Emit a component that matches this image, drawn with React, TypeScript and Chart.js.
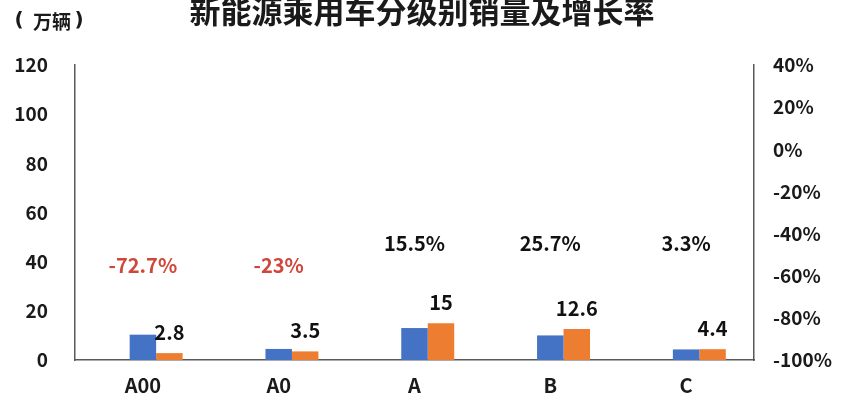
import React, { useEffect, useRef } from "react";
import { Chart, registerables } from "chart.js";

Chart.register(...registerables);

const categories = ["A00", "A0", "A", "B", "C"];
const prevSales = [10.3, 4.5, 13.0, 10.0, 4.3];
const currSales = [2.8, 3.5, 15, 12.6, 4.4];
const spacerSeries = [0, 0, 0, 0, 0];
const growthRates = ["-72.7%", "-23%", "15.5%", "25.7%", "3.3%"];
const growthValues = [-72.7, -23, 15.5, 25.7, 3.3];
const titleText = "新能源乘用车分级别销量及增长率";
const unitText = "万辆";

const FONT = "'Noto Sans CJK SC', 'Noto Sans', sans-serif";

const overlayPlugin = {
  id: "overlay",
  afterDraw(chart: any) {
    const { ctx, scales } = chart;
    const x = scales.x;
    const y = scales.y;
    ctx.save();
    // title
    ctx.fillStyle = "#1a1a1a";
    ctx.font = `bold 31px ${FONT}`;
    ctx.textAlign = "center";
    ctx.textBaseline = "middle";
    ctx.fillText(titleText, 422, 11);
    // unit
    ctx.font = `bold 19px ${FONT}`;
    ctx.textAlign = "center";
    ctx.fillText(unitText, 52, 22);
    ctx.font = `bold 20px 'DejaVu Sans', sans-serif`;
    ctx.fillText("(", 19, 21);
    ctx.fillText(")", 79, 21);
    // value labels on orange bars
    const meta = chart.getDatasetMeta(2);
    ctx.font = `bold 20px ${FONT}`;
    ctx.textAlign = "center";
    ctx.textBaseline = "middle";
    ctx.fillStyle = "#111111";
    meta.data.forEach((bar: any, i: number) => {
      ctx.fillText(String(currSales[i]), bar.x, bar.y - 21);
    });
    // growth labels
    growthRates.forEach((label, i) => {
      const neg = growthValues[i] < 0;
      ctx.fillStyle = neg ? "#D0463A" : "#111111";
      const py = y.getPixelForValue(neg ? 38.6 : 47.5);
      ctx.fillText(label, x.getPixelForValue(i), py);
    });
    ctx.restore();
  },
};

export default function App() {
  const ref = useRef<HTMLCanvasElement | null>(null);
  useEffect(() => {
    if (!ref.current) return;
    const tickFont = { family: FONT, size: 19, weight: "bold" as const };
    const xFont = { family: FONT, size: 20, weight: "bold" as const };
    const chart = new Chart(ref.current, {
      type: "bar",
      data: {
        labels: categories,
        datasets: [
          { label: "spacer", data: spacerSeries, backgroundColor: "rgba(0,0,0,0)", yAxisID: "y" },
          { label: "2019", data: prevSales, backgroundColor: "#4472C4", yAxisID: "y" },
          { label: "2020", data: currSales, backgroundColor: "#ED7D31", yAxisID: "y" },
        ],
      },
      options: {
        responsive: false,
        animation: false,
        events: [],
        layout: { padding: { top: 65, left: 0, right: 0, bottom: 0 } },
        datasets: { bar: { categoryPercentage: 0.585, barPercentage: 1.0 } },
        plugins: { legend: { display: false }, tooltip: { enabled: false }, title: { display: false } },
        scales: {
          x: {
            grid: { display: false, drawTicks: false },
            border: { display: true, color: "#595959", width: 1.5 },
            ticks: { font: xFont, color: "#1a1a1a", padding: 13 },
            afterFit: (s: any) => { s.height = 48; },
          },
          y: {
            position: "left",
            min: 0,
            max: 120,
            grid: { display: false, drawTicks: false },
            border: { display: true, color: "#595959", width: 1.5 },
            ticks: { stepSize: 20, font: tickFont, color: "#1a1a1a", padding: 27 },
            afterFit: (s: any) => { s.width = 75; },
          },
          y1: {
            position: "right",
            min: -1,
            max: 0.4,
            grid: { display: false, drawTicks: false },
            border: { display: true, color: "#595959", width: 1.5 },
            ticks: {
              stepSize: 0.2,
              font: tickFont,
              color: "#1a1a1a",
              padding: 19,
              callback: (v: any) => `${Math.round(Number(v) * 100)}%`,
            },
            afterFit: (s: any) => { s.width = 98; },
          },
        },
      },
      plugins: [overlayPlugin],
    });
    return () => chart.destroy();
  }, []);
  return (
    <div style={{ position: "fixed", left: 0, top: 0, width: 852, height: 408, background: "#fff" }}>
      <canvas ref={ref} width={852} height={408} style={{ width: 852, height: 408, display: "block" }} />
    </div>
  );
}
